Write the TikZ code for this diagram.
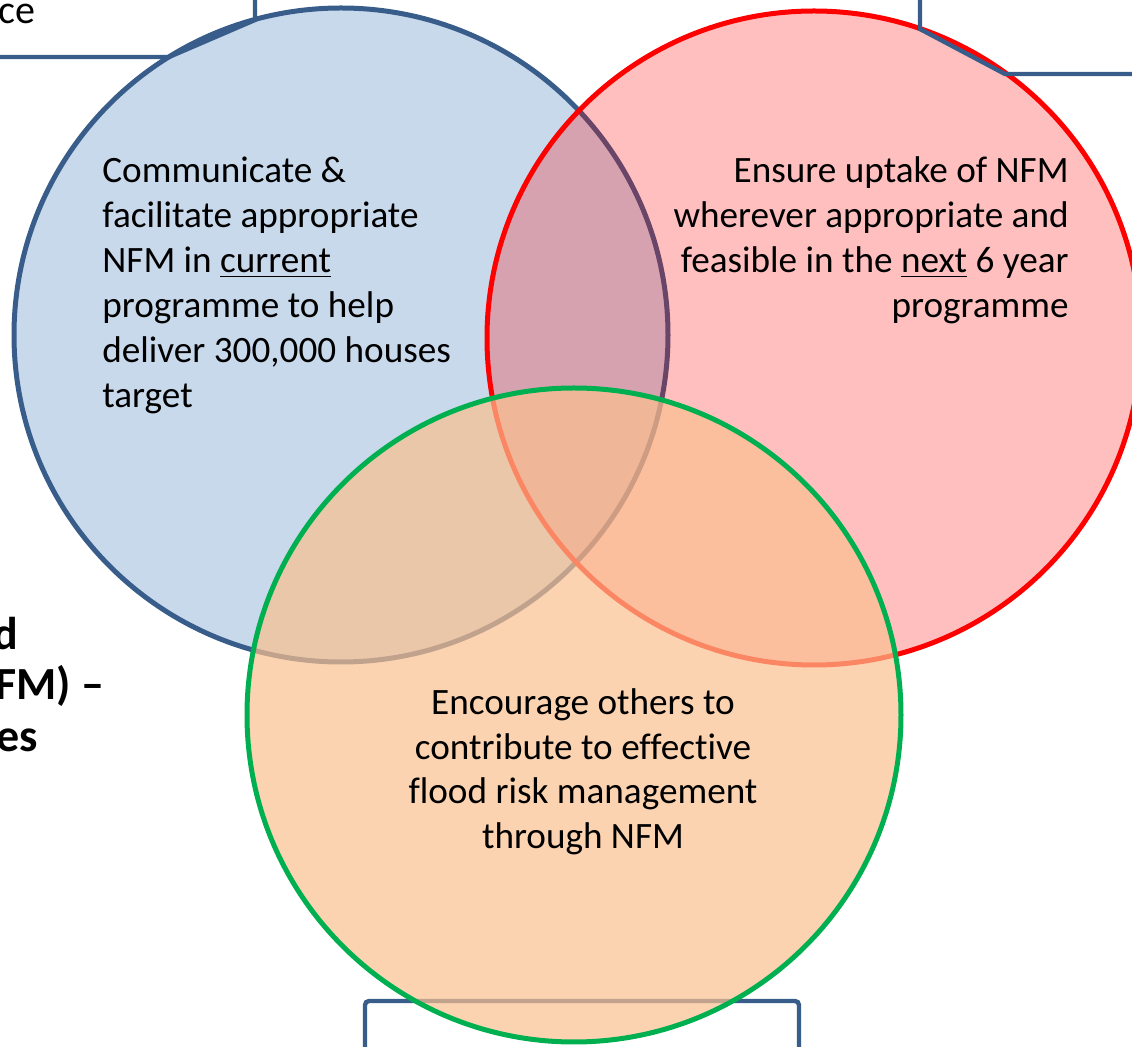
\documentclass[tikz,border=0pt]{standalone}
\usepackage{fontspec}
\setmainfont{Carlito}[Ligatures=NoCommon]

\definecolor{nfmblue}{HTML}{385D8A}
\definecolor{nfmbluefill}{HTML}{C9D9EC}
\definecolor{nfmgreen}{HTML}{00B050}
\definecolor{nfmorange}{HTML}{FAC08F}

\begin{document}
\begin{tikzpicture}[x=0.5pt, y=-0.5pt,
    ring/.style={line width=2.5pt},
    boxline/.style={draw=nfmblue, line width=2.2pt},
    txt/.style={inner sep=0pt, font=\fontsize{18.6}{22.5}\selectfont},
    bigtxt/.style={inner sep=0pt, font=\fontsize{23}{28}\selectfont\bfseries}]
    \useasboundingbox (0,0) rectangle (1132,1047);
    \clip (0,0) rectangle (1132,1047);

    \coordinate (blue) at (341,335);
    \coordinate (red) at (814,338);
    \coordinate (green) at (574,715);

    % box at the bottom, seen through the orange set
    \draw [boxline, rounded corners=2pt]
        (365,1100) -- (365,1001) -- (799,1001) -- (799,1100);

    % the three sets
    \draw [ring, draw=nfmblue, fill=nfmbluefill] (blue) circle [radius=327];
    \fill [red, opacity=0.25] (red) circle [radius=327];
    \draw [ring, red] (red) circle [radius=327];
    \draw [ring, draw=nfmgreen, fill=nfmorange, fill opacity=0.7]
        (green) circle [radius=327];

    % corners of the boxes behind the sets
    \draw [boxline] (0,57) -- (169,57) -- (255,20) -- (255,0);
    \draw [boxline] (920,0) -- (920,29) -- (1005,74) -- (1132,74);

    \node [txt, anchor=base west, font=\fontsize{20}{24}\selectfont]
        (topleft) at (-2,24) {ce};

    \node [bigtxt, anchor=base east] (title1) at (19,650) {d};
    \node [bigtxt, anchor=base east] (title2) at (105,700) {FM) --};
    \node [bigtxt, anchor=base east] (title3) at (38,752) {es};

    \foreach \t [count=\i] in {Communicate \&, facilitate appropriate,
        NFM in \underline{current}, programme to help,
        {deliver 300,000 houses}, target} {
        \node [txt, anchor=base west] (now\i) at (102, {183+45*(\i-1)}) {\t};
    }
    \foreach \t [count=\i] in {Ensure uptake of NFM, wherever appropriate and,
        feasible in the \underline{next} 6 year, programme} {
        \node [txt, anchor=base east] (next\i) at (1069, {183+45*(\i-1)}) {\t};
    }
    \foreach \t [count=\i] in {Encourage others to, contribute to effective,
        flood risk management, through NFM} {
        \node [txt, anchor=base] (others\i) at (583, {715+44.5*(\i-1)}) {\t};
    }
\end{tikzpicture}
\end{document}
